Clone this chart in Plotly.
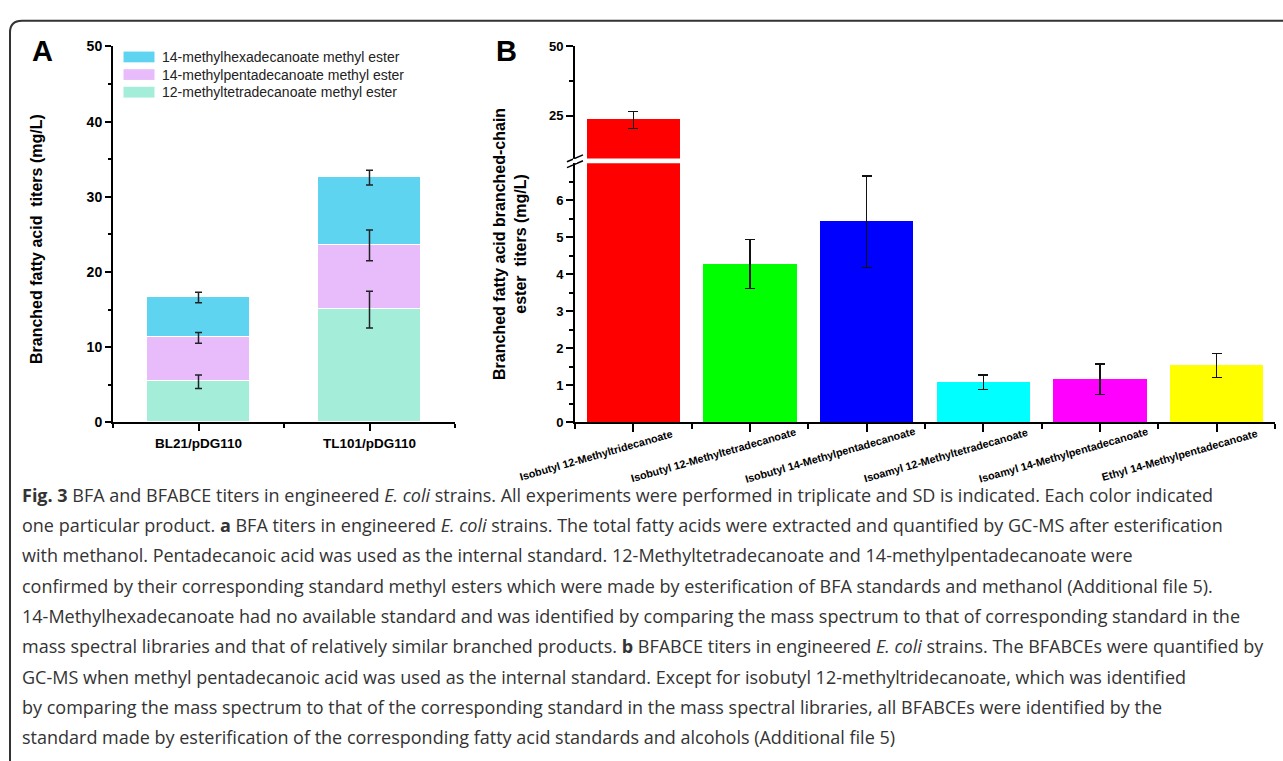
import numpy as np
import plotly.graph_objects as go

W, H = 1283, 761
def PX(p): return p / W
def PY(p): return 1 - p / H

# ---------------- data ----------------
# Panel A
strains = ["BL21/pDG110", "TL101/pDG110"]
a_series = ["12-methyltetradecanoate methyl ester",
            "14-methylpentadecanoate methyl ester",
            "14-methylhexadecanoate methyl ester"]
a_c15 = [5.4, 15.0]      # 12-methyltetradecanoate
a_c16 = [5.85, 8.55]     # 14-methylpentadecanoate
a_c17 = [5.35, 9.0]      # 14-methylhexadecanoate
a_c15_sd = [0.9, 2.45]
a_c16_sd = [0.72, 2.05]
a_c17_sd = [0.7, 0.98]
a_colors = ["#A3EDD9", "#E8BCFA", "#5ED4F0"]

# Panel B
esters = ["Isobutyl 12-Methyltridecanoate", "Isobutyl 12-Methyltetradecanoate",
          "Isobutyl 14-Methylpentadecanoate", "Isoamyl 12-Methyltetradecanoate",
          "Isoamyl 14-Methylpentadecanoate", "Ethyl 14-Methylpentadecanoate"]
b_vals = [23.5, 4.28, 5.42, 1.08, 1.17, 1.54]
b_sd = [3.1, 0.66, 1.24, 0.2, 0.41, 0.33]
b_colors = ["#FF0000", "#00FF00", "#0000FF", "#00FFFF", "#FF00FF", "#FFFF00"]

a_ticks = [0, 10, 20, 30, 40, 50]
b_low_ticks = [0, 1, 2, 3, 4, 5, 6]
b_up_ticks = [25, 50]

caption = [
    "<b>Fig. 3</b> BFA and BFABCE titers in engineered <i>E. coli</i> strains. All experiments were performed in triplicate and SD is indicated. Each color indicated",
    "one particular product. <b>a</b> BFA titers in engineered <i>E. coli</i> strains. The total fatty acids were extracted and quantified by GC-MS after esterification",
    "with methanol. Pentadecanoic acid was used as the internal standard. 12-Methyltetradecanoate and 14-methylpentadecanoate were",
    "confirmed by their corresponding standard methyl esters which were made by esterification of BFA standards and methanol (Additional file 5).",
    "14-Methylhexadecanoate had no available standard and was identified by comparing the mass spectrum to that of corresponding standard in the",
    "mass spectral libraries and that of relatively similar branched products. <b>b</b> BFABCE titers in engineered <i>E. coli</i> strains. The BFABCEs were quantified by",
    "GC-MS when methyl pentadecanoic acid was used as the internal standard. Except for isobutyl 12-methyltridecanoate, which was identified",
    "by comparing the mass spectrum to that of the corresponding standard in the mass spectral libraries, all BFABCEs were identified by the",
    "standard made by esterification of the corresponding fatty acid standards and alcohols (Additional file 5)",
]

fig = go.Figure()

# ---------------- Panel A ----------------
xa = np.arange(len(strains))
segs = [a_c15, a_c16, a_c17]
sds = [a_c15_sd, a_c16_sd, a_c17_sd]
for s, name, c in zip(segs, a_series, a_colors):
    fig.add_trace(go.Bar(x=xa, y=s, name=name, marker=dict(color=c, line=dict(color="white", width=1)),
                         width=0.6, xaxis="x", yaxis="y", showlegend=False))
cum = np.cumsum(np.array(segs), axis=0)
for i in range(3):
    fig.add_trace(go.Scatter(x=xa, y=cum[i], mode="markers", marker=dict(size=0.1, color="rgba(0,0,0,0)"),
                             error_y=dict(type="data", array=sds[i], color="#222", thickness=1.5, width=3.5),
                             xaxis="x", yaxis="y", showlegend=False, hoverinfo="skip"))

# ---------------- Panel B ----------------
xb = np.arange(len(esters))
for ax_x, ax_y in [("x2", "y2"), ("x3", "y3")]:
    fig.add_trace(go.Bar(x=xb, y=b_vals, marker=dict(color=b_colors, line=dict(width=0)), width=0.8,
                         error_y=dict(type="data", array=b_sd, color="#111", thickness=1.3, width=5),
                         xaxis=ax_x, yaxis=ax_y, showlegend=False))

axis_common = dict(showline=True, linewidth=2, linecolor="black", ticks="outside", tickwidth=2,
                   tickcolor="black", showgrid=False, zeroline=False)

fig.update_layout(
    width=W, height=H, margin=dict(l=0, r=0, t=0, b=0),
    plot_bgcolor="white", paper_bgcolor="white", barmode="stack", bargap=0,
    xaxis=dict(domain=[PX(113), PX(455)], range=[-0.5, 1.5], anchor="y", tickvals=list(xa), ticktext=strains,
               ticklen=7, tickfont=dict(family="Arial", size=13.5, color="black", weight="bold"),
               minor=dict(tickvals=[-0.5, 0.5, 1.5], ticklen=4, tickwidth=2, tickcolor="black", ticks="outside"),
               **axis_common),
    yaxis=dict(domain=[PY(423.3), PY(39.3)], range=[0, 50], anchor="x", tickvals=a_ticks, ticklen=6,
               tickfont=dict(family="Arial", size=14, color="black", weight="bold"),
               minor=dict(tickvals=[5, 15, 25, 35, 45], ticklen=3.5, tickwidth=2, tickcolor="black", ticks="outside"),
               **axis_common),
    xaxis2=dict(domain=[PX(575), PX(1275)], range=[-0.5, 5.5], anchor="y2", tickvals=list(xb),
                ticktext=[""] * len(xb), ticklen=8,
                minor=dict(tickvals=[-0.5, 0.5, 1.5, 2.5, 3.5, 4.5, 5.5], ticklen=5, tickwidth=2,
                           tickcolor="black", ticks="outside"),
                **axis_common),
    yaxis2=dict(domain=[PY(423.3), PY(158.7)], range=[0, 7], anchor="x2", tickvals=b_low_ticks, ticklen=7,
                tickfont=dict(family="Arial", size=13, color="black", weight="bold"),
                minor=dict(tickvals=[0.5, 1.5, 2.5, 3.5, 4.5, 5.5, 6.5], ticklen=4, tickwidth=1.5,
                           tickcolor="black", ticks="outside"),
                **axis_common),
    xaxis3=dict(domain=[PX(575), PX(1275)], range=[-0.5, 5.5], anchor="y3", visible=False),
    yaxis3=dict(domain=[PY(153.7), PY(39.3)], range=[9.55, 50], anchor="x3", tickvals=b_up_ticks, ticklen=7,
                tickfont=dict(family="Arial", size=13, color="black", weight="bold"),
                minor=dict(tickvals=[37.5], ticklen=4, tickwidth=1.5, tickcolor="black", ticks="outside"),
                **axis_common),
)

shapes = []
ann = []

# frame
r = 12
path = (f"M {PX(10)},{PY(800)} L {PX(10)},{PY(13 + r)} Q {PX(10)},{PY(13)} {PX(10 + r)},{PY(13)} "
        f"L {PX(1300)},{PY(13)}")
shapes.append(dict(type="path", xref="paper", yref="paper", path=path, line=dict(color="#333", width=2)))

# axis break marks
for dy in (0, 6):
    shapes.append(dict(type="line", xref="paper", yref="paper", x0=PX(567), y0=PY(157 + dy),
                       x1=PX(583), y1=PY(150 + dy), line=dict(color="black", width=1.5)))
shapes.append(dict(type="rect", xref="paper", yref="paper", x0=PX(573), x1=PX(577), y0=PY(158.2), y1=PY(154.2),
                   fillcolor="white", line=dict(width=0), layer="above"))

# legend panel A (top to bottom: hexadecanoate, pentadecanoate, tetradecanoate)
leg_rows = [(a_series[2], a_colors[2], 50), (a_series[1], a_colors[1], 68), (a_series[0], a_colors[0], 86)]
for name, c, yc in leg_rows:
    shapes.append(dict(type="rect", xref="paper", yref="paper", x0=PX(123.5), x1=PX(154.5),
                       y0=PY(yc + 5.5), y1=PY(yc - 5.5), fillcolor=c, line=dict(width=0)))
    ann.append(dict(xref="paper", yref="paper", x=PX(160), y=PY(yc), xanchor="left", yanchor="middle",
                    text=name, showarrow=False, font=dict(family="Arial", size=14, color="#222")))

# panel letters
ann.append(dict(xref="paper", yref="paper", x=PX(42), y=PY(44), xanchor="center", yanchor="middle",
                text="<b>A</b>", showarrow=False, font=dict(family="Arial", size=29, color="black")))
ann.append(dict(xref="paper", yref="paper", x=PX(506), y=PY(44), xanchor="center", yanchor="middle",
                text="<b>B</b>", showarrow=False, font=dict(family="Arial", size=29, color="black")))

# y titles
ann.append(dict(xref="paper", yref="paper", x=PX(36), y=PY(236), xanchor="center", yanchor="middle",
                textangle=-90, text="<b>Branched fatty acid  titers (mg/L)</b>", showarrow=False,
                font=dict(family="Arial", size=16, color="black")))
ann.append(dict(xref="paper", yref="paper", x=PX(510), y=PY(241), xanchor="center", yanchor="middle",
                textangle=-90, text="<b>Branched fatty acid branched-chain<br>ester  titers (mg/L)</b>",
                showarrow=False, font=dict(family="Arial", size=16, color="black")))

# panel B category labels
for i, lab in zip(xb, esters):
    ann.append(dict(xref="x2", yref="paper", x=i, y=PY(457), xshift=-37, xanchor="center", yanchor="middle",
                    textangle=-16, text=f"<b>{lab}</b>", showarrow=False,
                    font=dict(family="Arial", size=10.8, color="black")))

# caption
for k, line in enumerate(caption):
    ann.append(dict(xref="paper", yref="paper", x=PX(20), y=PY(497 + 31 * k), xanchor="left",
                    yanchor="middle", text=line, showarrow=False,
                    font=dict(family="Open Sans", size=18, color="#333")))

fig.update_layout(shapes=shapes, annotations=ann)
fig.write_html("out.html")
